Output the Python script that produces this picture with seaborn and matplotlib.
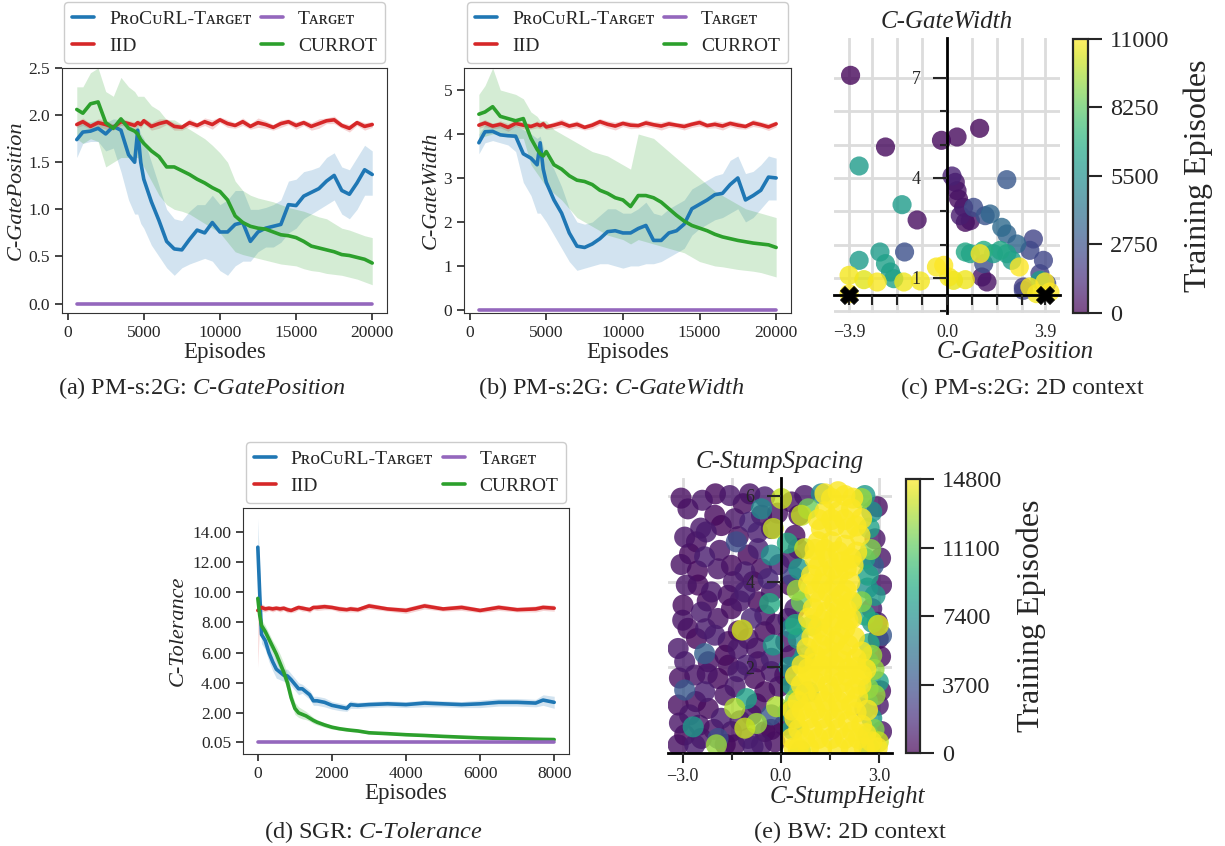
import matplotlib
matplotlib.use("Agg")
import matplotlib.pyplot as plt
import matplotlib.ticker as mticker
import numpy as np
import pandas as pd
import seaborn as sns

# ---------------- data: PM-s:2G curves (a), (b) ----------------
ep_pm = [600, 1000, 1500, 2000, 2500, 3000, 3500, 4000,
         4400, 4600, 4800,
         5000, 5500, 6000, 6500, 7000, 7500, 8000, 8500, 9000, 9500,
         10000, 10500, 11000, 11500, 12000, 12500, 13000, 13500, 14000, 14500,
         15000, 15500, 16000, 16500, 17000, 17500, 18000, 18500, 19000, 19500,
         20000]

pos_procurl = [1.74, 1.82, 1.83, 1.86, 1.80, 1.88, 1.84, 1.58,
               1.50, 1.84, 1.50,
               1.32, 1.08, 0.88, 0.66, 0.58, 0.57, 0.68, 0.78, 0.75, 0.86,
               0.76, 0.76, 0.84, 0.86, 0.66, 0.76, 0.80, 0.82, 0.84, 1.05,
               1.04, 1.14, 1.18, 1.22, 1.30, 1.36, 1.20, 1.16, 1.28, 1.42,
               1.37]
pos_procurl_lo = [1.55, 1.70, 1.72, 1.72, 1.62, 1.65, 1.40, 1.10,
                  0.95, 0.95, 0.85,
                  0.80, 0.62, 0.50, 0.38, 0.30, 0.38, 0.42, 0.45, 0.48, 0.45,
                  0.35, 0.30, 0.40, 0.45, 0.45, 0.55, 0.60, 0.60, 0.65, 0.75,
                  0.80, 0.90, 0.95, 1.00, 1.05, 1.10, 0.95, 0.90, 1.00, 1.15,
                  1.15]
pos_procurl_hi = [1.90, 1.92, 1.93, 1.95, 1.92, 1.96, 1.95, 1.90,
                  1.85, 1.90, 1.80,
                  1.75, 1.50, 1.25, 1.00, 0.90, 0.88, 0.98, 1.05, 1.05, 1.15,
                  1.05, 1.10, 1.20, 1.20, 1.00, 1.00, 1.02, 1.05, 1.10, 1.30,
                  1.32, 1.40, 1.42, 1.45, 1.55, 1.60, 1.45, 1.42, 1.55, 1.68,
                  1.62]
pos_iid = [1.90, 1.93, 1.88, 1.92, 1.90, 1.87, 1.93, 1.91,
           1.89, 1.92, 1.90,
           1.94, 1.88, 1.91, 1.93, 1.88, 1.87, 1.92, 1.89, 1.93, 1.90,
           1.95, 1.91, 1.89, 1.93, 1.88, 1.92, 1.90, 1.87, 1.91, 1.93,
           1.89, 1.92, 1.88, 1.91, 1.94, 1.95, 1.89, 1.86, 1.92, 1.88,
           1.90]
pos_iid_err = [0.03, 0.04, 0.03, 0.04, 0.05, 0.03, 0.04, 0.03,
               0.04, 0.03, 0.04,
               0.03, 0.04, 0.05, 0.03, 0.04, 0.03, 0.04, 0.03, 0.04, 0.05,
               0.03, 0.04, 0.03, 0.04, 0.03, 0.05, 0.04, 0.03, 0.04, 0.03,
               0.04, 0.03, 0.04, 0.05, 0.03, 0.04, 0.03, 0.04, 0.03, 0.04,
               0.03]
pos_currot = [2.06, 2.02, 2.12, 2.14, 1.92, 1.86, 1.96, 1.86,
              1.83, 1.80, 1.74,
              1.70, 1.62, 1.56, 1.45, 1.45, 1.41, 1.37, 1.32, 1.28, 1.23,
              1.19, 1.10, 0.93, 0.86, 0.82, 0.80, 0.79, 0.76, 0.73, 0.72,
              0.70, 0.66, 0.61, 0.59, 0.57, 0.55, 0.52, 0.51, 0.49, 0.47,
              0.43]
pos_currot_lo = [1.75, 1.70, 1.75, 1.72, 1.45, 1.50, 1.55, 1.55,
                 1.55, 1.55, 1.50,
                 1.45, 1.30, 1.15, 1.05, 1.00, 0.98, 0.95, 0.90, 0.85, 0.80,
                 0.75, 0.65, 0.55, 0.52, 0.50, 0.48, 0.46, 0.44, 0.42, 0.41,
                 0.40, 0.37, 0.35, 0.34, 0.32, 0.31, 0.30, 0.28, 0.26, 0.23,
                 0.20]
pos_currot_hi = [2.30, 2.30, 2.45, 2.50, 2.25, 2.20, 2.40, 2.30,
                 2.25, 2.20, 2.20,
                 2.20, 2.10, 2.05, 1.95, 1.95, 1.90, 1.85, 1.80, 1.75, 1.68,
                 1.60, 1.50, 1.30, 1.20, 1.15, 1.12, 1.10, 1.08, 1.05, 1.02,
                 1.00, 0.98, 0.95, 0.92, 0.90, 0.85, 0.80, 0.78, 0.75, 0.72,
                 0.70]

wid_procurl = [3.80, 4.05, 4.06, 3.98, 3.96, 3.95, 3.55, 3.45,
               3.30, 3.80, 3.20,
               2.90, 2.50, 2.20, 1.75, 1.45, 1.42, 1.50, 1.62, 1.78, 1.80,
               1.75, 1.75, 1.85, 1.92, 1.58, 1.58, 1.75, 1.80, 1.95, 2.30,
               2.40, 2.50, 2.62, 2.65, 2.85, 3.00, 2.50, 2.60, 2.72, 3.02,
               3.00]
wid_procurl_lo = [3.55, 3.80, 3.85, 3.80, 3.75, 3.60, 2.90, 2.60,
                  2.20, 2.20, 2.10,
                  2.00, 1.70, 1.40, 1.10, 0.90, 0.95, 1.00, 1.05, 1.05, 1.00,
                  0.95, 1.00, 1.00, 1.05, 1.05, 1.10, 1.20, 1.30, 1.40, 1.70,
                  1.85, 1.95, 2.05, 2.10, 2.20, 2.30, 2.00, 2.10, 2.30, 2.50,
                  2.50]
wid_procurl_hi = [4.00, 4.20, 4.25, 4.20, 4.20, 4.20, 4.10, 4.00,
                  3.90, 3.95, 3.70,
                  3.50, 3.20, 2.80, 2.30, 2.00, 1.95, 2.00, 2.15, 2.30, 2.30,
                  2.20, 2.20, 2.30, 2.45, 2.20, 2.15, 2.30, 2.40, 2.50, 2.75,
                  2.85, 2.95, 3.05, 3.10, 3.40, 3.50, 3.10, 3.15, 3.30, 3.50,
                  3.45]
wid_iid = [4.20, 4.25, 4.18, 4.22, 4.15, 4.24, 4.20, 4.17,
           4.22, 4.19, 4.23,
           4.16, 4.20, 4.25, 4.18, 4.22, 4.15, 4.20, 4.28, 4.22, 4.18,
           4.24, 4.20, 4.19, 4.25, 4.21, 4.18, 4.23, 4.20, 4.17, 4.22,
           4.26, 4.19, 4.22, 4.18, 4.24, 4.20, 4.17, 4.25, 4.21, 4.16,
           4.23]
wid_iid_err = [0.07, 0.08, 0.06, 0.08, 0.09, 0.07, 0.08, 0.06,
               0.08, 0.07, 0.08,
               0.06, 0.08, 0.09, 0.07, 0.08, 0.06, 0.08, 0.07, 0.08, 0.09,
               0.07, 0.08, 0.06, 0.08, 0.07, 0.09, 0.08, 0.06, 0.08, 0.07,
               0.08, 0.06, 0.08, 0.09, 0.07, 0.08, 0.06, 0.08, 0.07, 0.08,
               0.07]
wid_currot = [4.45, 4.50, 4.62, 4.40, 4.35, 4.30, 4.35, 3.90,
              3.65, 3.55, 3.50,
              3.60, 3.30, 3.20, 3.05, 2.95, 2.92, 2.85, 2.72, 2.65, 2.55,
              2.50, 2.35, 2.60, 2.60, 2.55, 2.45, 2.30, 2.15, 2.02, 1.92,
              1.86, 1.80, 1.72, 1.66, 1.62, 1.58, 1.55, 1.52, 1.50, 1.48,
              1.42]
wid_currot_lo = [3.90, 3.95, 4.00, 4.00, 3.95, 3.90, 3.90, 3.30,
                 3.10, 3.00, 2.90,
                 2.80, 2.65, 2.50, 2.30, 2.10, 2.00, 1.90, 1.80, 1.70, 1.65,
                 1.60, 1.50, 1.60, 1.55, 1.50, 1.45, 1.40, 1.35, 1.30, 1.20,
                 1.10, 1.05, 1.00, 0.98, 0.95, 0.92, 0.90, 0.88, 0.85, 0.80,
                 0.75]
wid_currot_hi = [4.90, 5.10, 5.50, 5.00, 4.95, 4.90, 4.80, 4.50,
                 4.40, 4.30, 4.30,
                 4.30, 4.10, 4.00, 3.90, 3.80, 3.70, 3.60, 3.55, 3.50, 3.40,
                 3.30, 3.20, 4.00, 3.95, 3.90, 3.75, 3.60, 3.45, 3.30, 3.15,
                 3.00, 2.85, 2.70, 2.60, 2.50, 2.40, 2.30, 2.25, 2.20, 2.15,
                 2.10]
target_pm_x = [600, 20000]
target_pos = [0.0, 0.0]
target_wid = [0.0, 0.0]

# ---------------- data: SGR curves (d) ----------------
ep_sgr = [0, 50, 100, 200, 300, 400, 500, 600, 700, 800, 900, 1000, 1100, 1200,
          1300, 1400, 1500, 1600,
          1800, 2000, 2200, 2400, 2500, 2700,
          3000, 3500, 4000, 4500, 5000, 5500, 6000, 6500, 7000, 7500,
          7700, 8000]
tol_procurl = [13.0, 10.0, 7.2, 6.8, 6.0, 5.4, 4.9, 4.7, 4.5, 4.45, 4.2, 3.9, 3.6, 3.6,
               3.4, 3.2, 2.8, 2.8,
               2.7, 2.5, 2.4, 2.3, 2.55, 2.5,
               2.55, 2.6, 2.55, 2.65, 2.6, 2.55, 2.6, 2.7, 2.7, 2.65,
               2.85, 2.7]
tol_procurl_lo = [11.0, 8.5, 6.6, 6.2, 5.4, 4.8, 4.3, 4.2, 4.1, 4.0, 3.8, 3.5, 3.2, 3.3,
                  3.1, 2.9, 2.5, 2.5,
                  2.4, 2.25, 2.15, 2.1, 2.3, 2.3,
                  2.35, 2.4, 2.35, 2.4, 2.4, 2.35, 2.35, 2.45, 2.45, 2.4,
                  2.5, 2.3]
tol_procurl_hi = [14.9, 11.5, 7.8, 7.4, 6.6, 6.0, 5.5, 5.2, 4.9, 4.9, 4.6, 4.3, 4.0, 3.9,
                  3.7, 3.5, 3.1, 3.1,
                  3.0, 2.75, 2.65, 2.55, 2.8, 2.7,
                  2.75, 2.8, 2.75, 2.85, 2.8, 2.75, 2.85, 2.95, 2.95, 2.9,
                  3.2, 3.1]
tol_iid = [8.8, 8.9, 9.0, 8.9, 8.95, 8.9, 8.95, 8.9, 8.95, 8.85, 8.8, 8.9, 9.0, 8.95,
           8.9, 8.85, 9.0, 9.0,
           9.05, 9.0, 8.9, 8.85, 8.9, 8.85,
           9.1, 8.9, 8.8, 9.1, 8.9, 9.0, 8.8, 9.0, 8.85, 8.9,
           9.0, 8.95]
tol_iid_err = [3.8, 0.6, 0.25, 0.2, 0.15, 0.2, 0.15, 0.2, 0.15, 0.2, 0.15, 0.2, 0.15, 0.2,
               0.15, 0.2, 0.15, 0.2,
               0.2, 0.15, 0.2, 0.15, 0.2, 0.15,
               0.2, 0.15, 0.2, 0.2, 0.15, 0.2, 0.15, 0.2, 0.15, 0.2,
               0.2, 0.2]
tol_currot = [9.6, 8.5, 7.8, 7.4, 6.9, 6.4, 5.9, 5.3, 4.7, 4.0, 3.0, 2.3, 2.0, 1.9,
              1.8, 1.65, 1.5, 1.38,
              1.2, 1.05, 0.95, 0.88, 0.85, 0.8,
              0.68, 0.62, 0.55, 0.5, 0.44, 0.39, 0.34, 0.31, 0.28, 0.25,
              0.24, 0.23]
tol_currot_lo = [9.0, 8.0, 7.5, 7.1, 6.5, 6.0, 5.4, 4.8, 4.2, 3.5, 2.6, 1.9, 1.7, 1.6,
                 1.55, 1.45, 1.3, 1.2,
                 1.05, 0.92, 0.85, 0.78, 0.76, 0.72,
                 0.6, 0.55, 0.48, 0.43, 0.38, 0.33, 0.29, 0.26, 0.23, 0.2,
                 0.19, 0.18]
tol_currot_hi = [9.9, 9.0, 8.2, 7.8, 7.3, 6.8, 6.4, 5.9, 5.3, 4.6, 3.5, 2.7, 2.4, 2.25,
                 2.1, 1.9, 1.7, 1.55,
                 1.35, 1.18, 1.05, 0.98, 0.94, 0.88,
                 0.76, 0.69, 0.62, 0.56, 0.5, 0.45, 0.39, 0.36, 0.33, 0.3,
                 0.29, 0.28]
target_sgr_x = [0, 8000]
target_tol = [0.05, 0.05]

# ---------------- data: PM-s:2G 2D context (c) ----------------
gate_pos = [-3.84, -2.45, -3.50, -1.79, -1.19, -0.22, 0.40, 1.30, 2.38,
            0.20, 0.33, 0.40, 0.46, 0.66, 0.53, 0.73, 0.93,
            1.06, 1.52, 1.72, 2.18, 2.38, 2.78,
            3.44, 3.30, 3.84, 3.70, 3.04, 3.97,
            0.73, 0.93, 1.46, 1.85, 2.12, 2.38, 2.58, 1.46,
            1.32, 2.88, 1.59, 1.39,
            -3.50, -2.67, -2.45, -2.25, -2.12, -1.69,
            -3.90, -3.31, -2.78, -1.72, -1.06, -0.42, -0.13, 0.07, 0.26, 0.73,
            -3.90, 3.30, 3.90, 4.10, 3.57, 3.70, 3.04]
gate_width = [7.08, 4.93, 4.36, 3.20, 2.74, 5.13, 5.23, 5.49, 3.95,
              4.06, 3.87, 3.62, 3.37, 3.12, 2.87, 2.67, 2.72,
              3.12, 2.87, 2.92, 2.52, 2.32, 2.02,
              2.17, 1.83, 1.53, 1.13, 0.73, 0.83,
              1.78, 1.73, 1.83, 1.73, 1.83, 1.73, 1.53, 1.43,
              1.73, 1.33, 0.88, 1.03,
              1.53, 1.78, 1.43, 1.18, 0.98, 1.78,
              1.08, 0.95, 0.88, 0.88, 0.91, 1.33, 1.38, 1.03, 0.93, 0.95,
              0.53, 0.73, 0.88, 0.58, 0.53, 0.93, 0.63]
gate_ep = [200, 300, 6000, 6000, 400, 300, 300, 200, 3000,
           1000, 600, 500, 400, 600, 900, 300, 500,
           2500, 2800, 3600, 3800, 3500, 3600,
           2200, 2400, 2300, 2100, 2000, 2500,
           6500, 6200, 6800, 6000, 6500, 6300, 6100, 2600,
           11000, 11000, 500, 600,
           6000, 6000, 6200, 6000, 6300, 2700,
           10800, 10500, 10900, 10700, 10800, 10900, 11000, 10800, 10600, 10700,
           11000, 10900, 11000, 11000, 10800, 6000, 2200]
gate_target_pos = [-3.9, 3.9]
gate_target_width = [0.5, 0.5]

# ---------------- data: BW 2D context (e) ----------------
bw_early_h = [-2.84, -1.56, -1.15, -0.49, -2.02, -2.94, -2.58, -2.28, -1.82, -1.41,
              -0.95, -0.59, -0.29, -2.79, -2.33, -1.87, -1.00, -0.69, -1.92, -1.51,
              -1.10, -0.59, -0.39, -2.89, -2.53, -2.12, -1.61, -1.10, -0.69, -0.29,
              -2.99, -2.43, -1.92, -1.51, -0.90, -0.49, -2.84, -3.14, -2.58, -2.02,
              -1.61, -1.00, -0.49, -2.94, -2.22, -1.71, -1.31, -0.69, -0.29, -2.63,
              -1.92, -1.31, -0.80, -0.29, -3.14, -2.33, -1.71, -0.49, -2.79, -2.22,
              -1.82, -0.90, -2.94, -2.43, -1.51, -1.00, -0.49, -3.14, -2.63, -1.41,
              -0.59, -0.18,
              -3.05, -2.40, -2.00, -0.95, -3.05, -2.45, -1.30, -0.70, -0.10, -2.55,
              -1.45, -0.85, -0.05, -3.00, -2.25, -1.25, -0.15, -2.30, -1.30, -0.75,
              -3.10, -2.25, -1.60, -1.05, -0.05, -2.60, -1.40, -0.75, -2.50, -1.70,
              -1.25, -0.30, -3.10, -2.05, -0.85,
              0.33, 0.73, 0.43, 0.53, 0.33, 0.28, 0.43, 0.33, 2.88, 3.08,
              2.78, 2.98, 2.98, 3.08, 0.12, 0.22,
              2.95, 3.05, 2.95, 3.05, 3.05, 0.15, 0.10, 0.55]
bw_early_s = [5.70, 6.01, 5.82, 5.98, 5.55, 5.04, 4.93, 5.16, 5.31, 5.47,
              5.39, 5.55, 5.24, 4.65, 4.58, 4.73, 4.62, 4.77, 4.30, 4.38,
              4.23, 4.30, 4.07, 3.92, 3.92, 3.76, 3.68, 3.76, 3.53, 3.76,
              3.45, 3.29, 3.14, 3.37, 3.14, 3.22, 2.91, 2.44, 2.67, 2.75,
              2.60, 2.67, 2.83, 2.13, 2.13, 2.28, 2.44, 2.13, 2.21, 1.82,
              1.74, 1.90, 1.74, 1.90, 1.12, 1.43, 1.35, 1.43, 0.89, 1.04,
              0.81, 0.89, 0.42, 0.34, 0.50, 0.34, 0.50, 0.19, 0.19, 0.19,
              0.19, 0.26,
              5.95, 5.90, 6.05, 6.05, 4.40, 5.25, 5.05, 5.15, 5.60, 4.25,
              4.00, 4.00, 4.40, 3.10, 3.55, 3.55, 3.00, 2.90, 2.85, 2.45,
              1.75, 1.85, 2.05, 2.05, 1.55, 1.20, 1.55, 1.15, 0.65, 0.20,
              0.75, 0.55, 0.70, 0.55, 0.15,
              5.86, 6.01, 5.08, 4.77, 4.54, 3.92, 3.37, 2.28, 5.00, 3.92,
              3.37, 2.67, 1.12, 0.50, 1.82, 3.14,
              5.75, 4.55, 3.05, 2.25, 1.45, 2.60, 0.65, 5.55]
bw_early_ep = [600, 900, 400, 1200, 300, 800, 500, 1000, 200, 700,
               1500, 400, 900, 300, 1100, 600, 200, 1300, 800, 400,
               1000, 500, 1600, 700, 300, 900, 500, 1200, 200, 800,
               400, 1000, 600, 300, 1400, 700, 500, 900, 200, 1100,
               400, 800, 300, 1000, 600, 200, 900, 500, 1300, 700,
               300, 1000, 400, 800, 500, 1200, 600, 300, 900, 400,
               1100, 700, 200, 800, 500, 1000, 300, 600, 1100, 400,
               900, 500,
               500, 800, 300, 700, 600, 900, 400, 1100, 600, 300,
               800, 500, 1200, 700, 400, 900, 600, 1000, 300, 700,
               500, 800, 400, 1100, 600, 300, 900, 500, 700, 400,
               1000, 300, 800, 600, 1200,
               600, 900, 400, 1200, 700, 300, 1000, 500, 800, 600,
               1100, 400, 900, 700, 300, 1000,
               500, 700, 900, 400, 600, 800, 500, 300]

bw_mid_h = [-1.36, -0.29, -0.59, 0.02, -0.23, -0.34, -1.18, -2.33, -0.23, -2.94,
            -1.05, -1.41, -1.10, -0.74, -2.68, -1.92, -1.97, -0.29, -0.13,
            0.38, 2.83, 3.08, 2.57, 1.24, 2.57, 2.78, 0.33, 0.53, 0.73,
            0.33, 0.22, 2.57, 2.67, 2.88, 2.57, 2.67, 2.98, 2.78, 0.84,
            0.84, 0.63, 0.73, 0.63, 0.94, 2.47, 2.78, 2.98, 2.67, 2.88,
            2.67, 2.98, 2.47,
            2.70, 2.75, 2.65, 2.80, 2.70, 2.85, 2.65, 2.85, 2.70,
            0.55, 0.50, 0.45, 0.60, 0.45, 0.35, 0.60, 0.25, 0.20]
bw_mid_s = [4.93, 4.62, 5.70, 5.94, 5.24, 3.49, 2.87, 2.32, 2.52, 1.47,
            1.27, 1.04, 0.58, 0.69, 0.61, 0.34, 0.19, 0.89, 1.08,
            4.11, 4.38, 2.75, 1.04, 6.05, 6.01, 5.63, 2.91, 2.67, 2.28,
            1.59, 0.96, 4.54, 4.15, 3.68, 3.22, 2.13, 1.66, 0.81, 1.43,
            5.70, 5.55, 4.77, 3.53, 2.98, 3.53, 2.28, 2.98, 1.51, 1.35,
            0.42, 0.26, 5.94,
            5.25, 4.75, 3.85, 3.05, 2.55, 1.95, 1.20, 0.55, 0.10,
            4.30, 3.80, 3.00, 2.10, 1.25, 0.55, 0.05, 2.00, 4.90]
bw_mid_ep = [3500, 7500, 7000, 13500, 13500, 9000, 13800, 4500, 8000, 4000,
             8500, 13000, 13500, 12500, 8000, 3500, 12500, 4000, 13000,
             3000, 4500, 4000, 4500, 7000, 8000, 7500, 7000, 8000, 7500,
             8500, 8000, 8000, 8500, 8000, 9000, 8000, 8500, 8000, 7500,
             11500, 13500, 13500, 11500, 12000, 12000, 12500, 14000, 12000, 12500,
             12000, 13500, 12500,
             8500, 12000, 7500, 8000, 9000, 12500, 8000, 12000, 9000,
             8000, 12500, 9000, 8000, 12000, 8500, 12000, 7500, 9000]

bw_late_h = [1.55, 1.96, 1.35, 1.76, 2.16, 2.47, 1.24, 1.65, 2.06, 2.42,
             1.14, 1.55, 1.96, 2.32, 1.04, 1.45, 1.86, 2.21,
             0.94, 1.35, 1.76, 2.11, 1.04, 1.45, 1.86, 2.16, 0.99, 1.39,
             1.81, 2.16, 1.14, 1.55, 1.96, 1.24, 1.65, 2.06, 2.47, 1.04,
             0.84, 1.24, 1.65, 2.06, 2.47, 0.63, 1.04, 1.45, 1.86, 2.27,
             0.53, 0.94, 1.35, 1.76, 2.16, 0.43, 0.84, 1.24, 1.65, 2.06,
             2.47, 0.33, 0.73, 1.14, 1.55, 1.96, 2.37, 2.78, 0.53,
             1.35, 1.75, 2.20, 1.15, 1.55, 1.95, 2.30, 1.05, 1.35, 1.75,
             2.15, 1.15, 1.60, 2.00, 0.85, 1.25, 1.65, 2.00, 1.20, 1.65,
             2.00, 0.85, 1.25, 1.65, 2.05, 0.95, 1.35, 1.80, 2.25, 0.80,
             1.45, 1.85, 2.30, 0.65, 1.05, 1.45, 1.85, 2.30, 2.60, 0.45,
             0.85, 1.25, 1.65, 2.05, 2.45, 0.75, 1.15, 1.55, 1.95, 2.35,
             2.65, 0.35, 0.65, 1.05, 1.45, 1.85, 2.30, 0.55, 0.95, 1.35,
             1.75, 2.20, 2.60, 0.40, 0.85, 1.25, 1.75, 2.15, 2.55, 2.95]
bw_late_s = [5.94, 6.01, 5.63, 5.63, 5.70, 5.47, 5.24, 5.31, 5.24, 5.08,
             4.93, 4.93, 4.85, 4.69, 4.54, 4.54, 4.46, 4.38,
             4.15, 4.15, 4.15, 3.99, 3.76, 3.76, 3.68, 3.53, 3.37, 3.29,
             3.37, 3.14, 2.91, 2.98, 2.91, 2.52, 2.60, 2.52, 2.36, 2.28,
             1.97, 2.05, 2.05, 1.97, 1.82, 1.59, 1.66, 1.59, 1.66, 1.51,
             1.20, 1.20, 1.20, 1.20, 1.12, 0.81, 0.81, 0.81, 0.81, 0.73,
             0.65, 0.34, 0.34, 0.34, 0.34, 0.34, 0.34, 0.26, 0.11,
             6.05, 6.10, 5.95, 5.45, 5.45, 5.45, 5.30, 4.75, 4.75, 4.70,
             4.55, 4.35, 4.30, 4.30, 3.95, 3.95, 3.90, 3.80, 3.55, 3.50,
             3.35, 3.15, 3.10, 3.15, 3.10, 2.70, 2.75, 2.75, 2.70, 2.45,
             2.40, 2.35, 2.20, 2.05, 2.10, 2.20, 2.15, 2.00, 1.95, 1.80,
             1.80, 1.85, 1.80, 1.80, 1.60, 1.40, 1.40, 1.40, 1.40, 1.30,
             1.00, 1.00, 1.00, 1.00, 1.00, 1.00, 0.95, 0.55, 0.55, 0.55,
             0.55, 0.50, 0.45, 0.12, 0.12, 0.12, 0.12, 0.12, 0.12, 0.12]
bw_late_ep = 14700

# ---------------- style ----------------
sns.set_style("ticks")
plt.rcParams["font.family"] = ["Liberation Serif", "DejaVu Serif"]
plt.rcParams["mathtext.fontset"] = "custom"
plt.rcParams["mathtext.rm"] = "Liberation Serif"
plt.rcParams["mathtext.it"] = "Liberation Serif:italic"
plt.rcParams["axes.unicode_minus"] = True

BLUE, RED, PURPLE, GREEN = "#1f77b4", "#d62728", "#9467bd", "#2ca02c"
LBL_PRO = "P\u0280\u1d0fC\u1d1cRL-T\u1d00\u0280\u0262\u1d07\u1d1b"
LBL_TGT = "T\u1d00\u0280\u0262\u1d07\u1d1b"
W, H = 1225, 846


def box(l, t, r, b):
    return [l / W, 1 - b / H, (r - l) / W, (b - t) / H]


fig = plt.figure(figsize=(12.25, 8.46), dpi=100)


def curves(ax, x, tx, rows, target):
    for name, mean, lo, hi, col in rows:
        ax.fill_between(x, lo, hi, color=col, alpha=0.2, linewidth=0)
    for name, mean, lo, hi, col in rows:
        sns.lineplot(x=x, y=mean, ax=ax, color=col, lw=2.6, label=name)
    sns.lineplot(x=tx, y=target, ax=ax, color=PURPLE, lw=2.6, label=LBL_TGT)
    h, l = ax.get_legend_handles_labels()
    d = dict(zip(l, h))
    order = [LBL_PRO, "IID", LBL_TGT, "CURROT"]
    ax.legend([d[k] for k in order], order, ncol=2, loc="lower center",
              bbox_to_anchor=(0.5, 1.005), fontsize=14, handlelength=1.15,
              columnspacing=0.5, handletextpad=0.75, borderaxespad=0.2,
              fancybox=True, edgecolor="#cccccc", framealpha=1)
    ax.tick_params(labelsize=12.5, length=5, width=1.2)
    ax.set_xlabel("Episodes", fontsize=16.5, labelpad=1)
    for s in ax.spines.values():
        s.set_color("#333333")


# (a)
ax_a = fig.add_axes(box(62, 68, 387, 313))
curves(ax_a, ep_pm, target_pm_x, [
    (LBL_PRO, pos_procurl, pos_procurl_lo, pos_procurl_hi, BLUE),
    ("IID", pos_iid, np.subtract(pos_iid, pos_iid_err), np.add(pos_iid, pos_iid_err), RED),
    ("CURROT", pos_currot, pos_currot_lo, pos_currot_hi, GREEN)], target_pos)
ax_a.set_xlim(-370, 20970)
ax_a.set_ylim(-0.1, 2.5)
ax_a.set_yticks([0, 0.5, 1.0, 1.5, 2.0, 2.5])
ax_a.yaxis.set_major_formatter(mticker.FormatStrFormatter("%.1f"))
ax_a.set_xticks([0, 5000, 10000, 15000, 20000])
ax_a.set_ylabel("C-GatePosition", fontsize=16, style="italic", labelpad=2)

# (b)
ax_b = fig.add_axes(box(464, 68, 791, 313))
curves(ax_b, ep_pm, target_pm_x, [
    (LBL_PRO, wid_procurl, wid_procurl_lo, wid_procurl_hi, BLUE),
    ("IID", wid_iid, np.subtract(wid_iid, wid_iid_err), np.add(wid_iid, wid_iid_err), RED),
    ("CURROT", wid_currot, wid_currot_lo, wid_currot_hi, GREEN)], target_wid)
ax_b.set_xlim(-370, 20970)
ax_b.set_ylim(-0.07, 5.5)
ax_b.set_yticks([0, 1, 2, 3, 4, 5])
ax_b.set_xticks([0, 5000, 10000, 15000, 20000])
ax_b.set_ylabel("C-GateWidth", fontsize=16, style="italic", labelpad=2)

# (d)
ax_d = fig.add_axes(box(243, 508, 569, 754))
curves(ax_d, ep_sgr, target_sgr_x, [
    (LBL_PRO, tol_procurl, tol_procurl_lo, tol_procurl_hi, BLUE),
    ("IID", tol_iid, np.subtract(tol_iid, tol_iid_err), np.add(tol_iid, tol_iid_err), RED),
    ("CURROT", tol_currot, tol_currot_lo, tol_currot_hi, GREEN)], target_tol)
ax_d.set_xlim(-400, 8400)
ax_d.set_ylim(-0.73, 15.6)
ax_d.set_yticks([0.05, 2, 4, 6, 8, 10, 12, 14])
ax_d.yaxis.set_major_formatter(mticker.FormatStrFormatter("%.2f"))
ax_d.set_xticks([0, 2000, 4000, 6000, 8000])
ax_d.set_ylabel("C-Tolerance", fontsize=16, style="italic", labelpad=3)


def minus_fmt(v, p):
    return f"{v:.1f}".replace("-", "\u2212")


def context(ax, cax, df, vmax, s, cticks, gx, gy):
    # light grid under the points, axis (labels, spines) above them
    for v in gx:
        ax.axvline(v, color="#dcdcdc", lw=2, zorder=0.5)
    for v in gy:
        ax.axhline(v, color="#dcdcdc", lw=2, zorder=0.5)
    df = df.sort_values("ep", kind="stable")
    sns.scatterplot(data=df, x="x", y="y", hue="ep", palette="viridis",
                    hue_norm=(0, vmax), s=s, alpha=0.8, edgecolor="none",
                    legend=False, ax=ax, zorder=2)
    ax.set_axisbelow(False)
    ax.set_xlabel("")
    ax.set_ylabel("")
    for side in ["top", "right"]:
        ax.spines[side].set_visible(False)
    for side in ["left", "bottom"]:
        ax.spines[side].set_color("black")
        ax.spines[side].set_linewidth(2)
    sm = plt.cm.ScalarMappable(cmap="viridis", norm=plt.Normalize(0, vmax))
    cb = fig.colorbar(sm, cax=cax, alpha=0.7)
    cb.set_ticks(cticks)
    cb.ax.tick_params(labelsize=17.5, length=10, width=1.5, pad=6)
    cb.outline.set_linewidth(1.6)
    cb.set_label("Training Episodes", fontsize=23, labelpad=10)


# (c)
ax_c = fig.add_axes(box(834, 38, 1060, 313))
cax_c = fig.add_axes(box(1073, 39, 1088, 313))
df_c = pd.DataFrame({"x": gate_pos, "y": gate_width, "ep": gate_ep})
context(ax_c, cax_c, df_c, 11000, 190, [0, 2750, 5500, 8250, 11000],
        [-3.9, -3, -2, -1, 1, 2, 3, 3.9], [0, 1, 2, 3, 4, 5, 6, 7])
sns.scatterplot(x=gate_target_pos, y=gate_target_width, marker="X", s=170,
                color="black", edgecolor="black", linewidth=0.5, ax=ax_c, zorder=6)
ax_c.set_xlim(-4.5, 4.5)
ax_c.set_ylim(-0.05, 8.2)
ax_c.spines["left"].set_position(("data", 0))
ax_c.spines["bottom"].set_position(("data", 0.5))
ax_c.set_xticks([-3.9, 0, 3.9])
ax_c.set_xticks([-3, -2, -1, 1, 2, 3], minor=True)
ax_c.set_yticks([1, 4, 7])
ax_c.set_yticks([0, 2, 3, 5, 6], minor=True)
ax_c.xaxis.set_major_formatter(mticker.FuncFormatter(minus_fmt))
ax_c.tick_params(axis="x", which="both", length=7, width=1.5, labelsize=13, pad=14)
ax_c.tick_params(axis="y", which="major", length=10, width=1.5, labelsize=13, pad=9)
ax_c.tick_params(axis="y", which="minor", length=5, width=1.5)
ax_c.text(0.5, 1.058, "C-GateWidth", transform=ax_c.transAxes, ha="center",
          va="center", fontsize=18, style="italic")
ax_c.text(0.80, -0.142, "C-GatePosition", transform=ax_c.transAxes, ha="center",
          va="center", fontsize=18, style="italic")

# (e)
ax_e = fig.add_axes(box(668, 478, 892, 753))
cax_e = fig.add_axes(box(906, 479, 920, 753))
df_e = pd.concat([
    pd.DataFrame({"x": bw_early_h, "y": bw_early_s, "ep": bw_early_ep}),
    pd.DataFrame({"x": bw_mid_h, "y": bw_mid_s, "ep": bw_mid_ep}),
    pd.DataFrame({"x": bw_late_h, "y": bw_late_s, "ep": bw_late_ep}),
], ignore_index=True)
context(ax_e, cax_e, df_e, 14800, 230, [0, 3700, 7400, 11100, 14800],
        [-3, -1.5, 1.5, 3], [2, 4, 6])
ax_e.set_xlim(-3.45, 3.4)
ax_e.set_ylim(0, 6.42)
ax_e.spines["left"].set_position(("data", 0))
ax_e.set_xticks([-3, 0, 3])
ax_e.set_xticks([-1.5, 1.5], minor=True)
ax_e.set_yticks([2, 4, 6])
ax_e.xaxis.set_major_formatter(mticker.FuncFormatter(minus_fmt))
ax_e.tick_params(axis="x", which="major", length=7, width=1.5, labelsize=13, pad=4)
ax_e.tick_params(axis="x", which="minor", length=5, width=1.5)
ax_e.tick_params(axis="y", which="major", length=10, width=1.5, labelsize=13, pad=9)
ax_e.text(0.5, 1.058, "C-StumpSpacing", transform=ax_e.transAxes, ha="center",
          va="center", fontsize=18, style="italic")
ax_e.text(0.80, -0.16, "C-StumpHeight", transform=ax_e.transAxes, ha="center",
          va="center", fontsize=18, style="italic")

# captions
captions = [
    (202, 388, r"(a) PM-s:2G: $\mathit{C}$-$\mathit{GatePosition}$"),
    (611, 388, r"(b) PM-s:2G: $\mathit{C}$-$\mathit{GateWidth}$"),
    (1022, 388, "(c) PM-s:2G: 2D context"),
    (373, 832, r"(d) SGR: $\mathit{C}$-$\mathit{Tolerance}$"),
    (850, 832, "(e) BW: 2D context"),
]
for cx, cy, txt in captions:
    fig.text(cx / W, 1 - cy / H, txt, ha="center", va="center", fontsize=17.5)

fig.savefig("out.png", dpi=100)
